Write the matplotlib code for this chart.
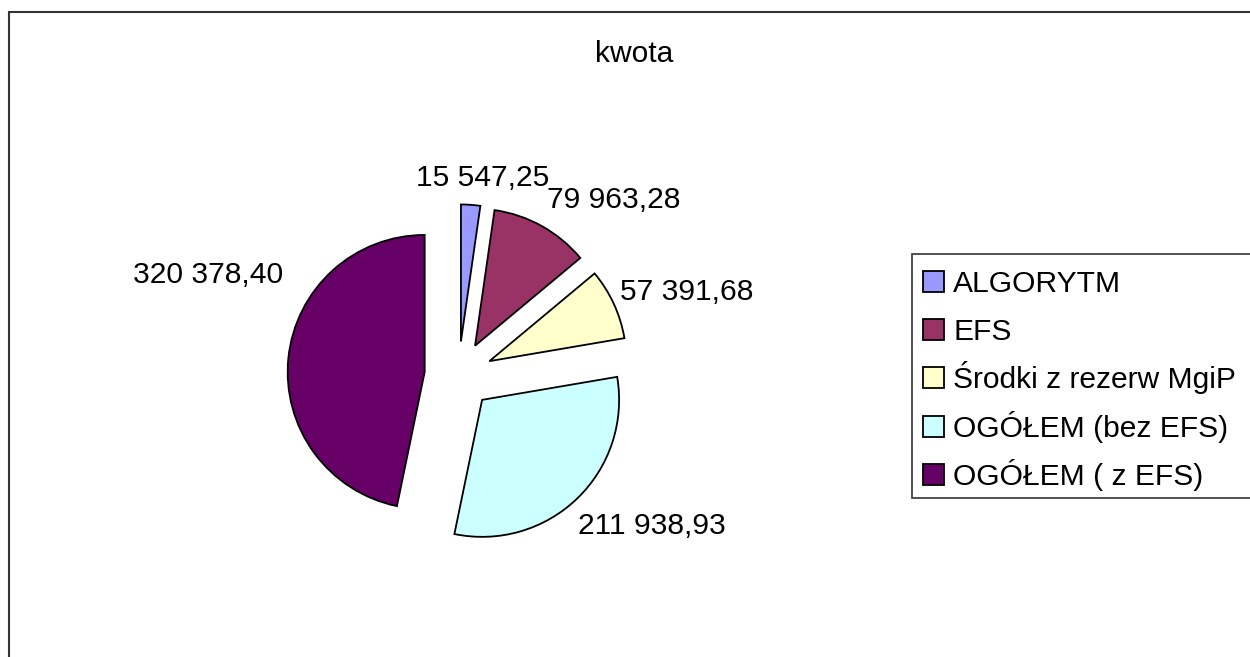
import matplotlib
matplotlib.use("Agg")
import matplotlib.pyplot as plt
from matplotlib.patches import Rectangle

plt.rcParams['font.family'] = ['Liberation Sans', 'DejaVu Sans']

# ---- data ----
title = "kwota"
categories = ["ALGORYTM", "EFS", "Środki z rezerw MgiP", "OGÓŁEM (bez EFS)", "OGÓŁEM ( z EFS)"]
values = [15547.25, 79963.28, 57391.68, 211938.93, 320378.40]
colors = ["#9999FF", "#993366", "#FFFFCC", "#CCFFFF", "#660066"]

W, H = 1250, 657
FS = 21.6  # pt (~30 px at 100 dpi)

def fmt(v):
    return f"{v:,.2f}".replace(",", " ").replace(".", ",")

def sy(y):  # screen y (down) -> data y (up)
    return H - y

fig = plt.figure(figsize=(W / 100, H / 100), dpi=100)
ax = fig.add_axes([0, 0, 1, 1])

R = 137
# in matplotlib the explode offset is in data units (here pixels)
wedges, _ = ax.pie(values, colors=colors, startangle=90, counterclock=False,
                   center=(458.5, sy(375.4)), radius=R,
                   explode=[34] * len(values),
                   wedgeprops=dict(edgecolor="black", linewidth=1.3))

ax.set_xlim(0, W)
ax.set_ylim(0, H)
ax.set_aspect('auto')
ax.axis('off')

# outer chart-area frame (runs off right and bottom)
ax.plot([8.5, 8.5, W + 10], [-10, sy(12), sy(12)], color="#333333", lw=1.5,
        solid_joinstyle='miter', clip_on=False)

# title
ax.text(634, sy(61.7), title, ha="center", va="baseline", fontsize=FS)

# data labels (text placement: x, baseline y, horizontal alignment)
label_pos = [(483, 186.5, "center"), (547, 208, "left"), (620, 300, "left"),
             (578, 534, "left"), (283, 283, "right")]
for v, (x, y, ha) in zip(values, label_pos):
    ax.text(x, sy(y), fmt(v), ha=ha, va="baseline", fontsize=FS)

# legend
ax.add_patch(Rectangle((912, sy(498)), 360, 244, facecolor="white",
                       edgecolor="#333333", lw=1.2, clip_on=False))
for i, (lab, w) in enumerate(zip(categories, wedges)):
    base = 291.7 + i * 48.3
    ax.add_patch(Rectangle((923, sy(base)), 21, 21, facecolor=w.get_facecolor(),
                           edgecolor="black", lw=1.3))
    ax.text(953, sy(base), lab, ha="left", va="baseline", fontsize=FS)

fig.savefig("out.png", dpi=100)
